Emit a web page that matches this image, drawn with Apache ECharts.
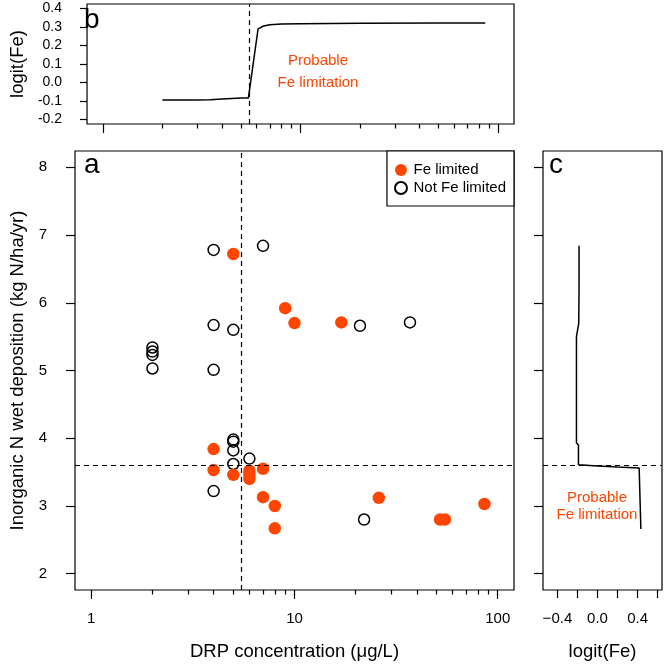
<!DOCTYPE html>
<html><head><meta charset="utf-8">
<script src="https://cdn.jsdelivr.net/npm/echarts@6/dist/echarts.min.js"></script>
<style>html,body{margin:0;padding:0;background:#fff}#c{width:664px;height:667px}</style>
</head><body><div id="c"></div>
<script>
// ---- data ----
const feLimitedDRP = [5, 9, 10, 17, 4, 4, 5, 6, 6, 6, 7, 7, 8, 8, 26, 52, 55, 86];
const feLimitedDep = [6.72, 5.92, 5.70, 5.71, 3.84, 3.53, 3.46, 3.52, 3.46, 3.40, 3.55, 3.13, 3.00, 2.67, 3.12, 2.80, 2.80, 3.03];
const notLimitedDRP = [4, 7, 4, 5, 2, 2, 2, 2, 4, 21, 37, 5, 5, 5, 5, 6, 4, 22];
const notLimitedDep = [6.78, 6.84, 5.67, 5.60, 5.34, 5.28, 5.23, 5.03, 5.01, 5.66, 5.71, 3.98, 3.95, 3.82, 3.62, 3.70, 3.22, 2.80];
const curveBDRP = [2, 3, 3.5, 4, 4.5, 5, 5.45, 6.1, 6.5, 7, 8, 10, 20, 50, 86];
const curveBLogit = [-0.095, -0.095, -0.093, -0.089, -0.086, -0.084, -0.083, 0.29, 0.305, 0.312, 0.316, 0.318, 0.320, 0.321, 0.322];
const curveCLogit = [-0.184, -0.184, -0.187, -0.21, -0.21, -0.19, -0.19, 0.0, 0.2, 0.416, 0.433, 0.433];
const curveCDep = [6.84, 6.24, 5.70, 5.50, 3.93, 3.90, 3.61, 3.59, 3.575, 3.56, 3.55, 2.66];
const drpThreshold = 5.5;
const depThreshold = 3.6;
const drpMajorTicks = [1, 10, 100];
const drpMinorTicks = [2, 3, 4, 5, 6, 7, 8, 9, 20, 30, 40, 50, 60, 70, 80, 90];
const depTicks = [2, 3, 4, 5, 6, 7, 8];
const logitBTicks = [-0.2, -0.1, 0, 0.1, 0.2, 0.3, 0.4];
const logitCTicks = [-0.4, -0.2, 0, 0.2, 0.4, 0.6];
const logitCLabels = [-0.4, 0, 0.4];
const seriesNames = ['Fe limited', 'Not Fe limited'];

// ---- style ----
const FONT = 'Liberation Sans, Arial, sans-serif';
const ORANGE = '#FF4500';
const zip = (a, b) => a.map((v, i) => [v, b[i]]);
const drpMin = Math.pow(10, -0.08), drpMax = Math.pow(10, 2.08);

function logX(grid, ticks, len, labels, name) {
  return {
    type: 'log', gridIndex: grid, position: 'bottom', min: drpMin, max: drpMax,
    axisLine: { show: false, onZero: false },
    splitLine: { show: false },
    axisTick: { show: true, customValues: ticks, length: len, lineStyle: { color: '#000', width: 1.2 } },
    axisLabel: labels ? { show: true, customValues: ticks, margin: 21, fontSize: 15, color: '#000', fontFamily: FONT,
      formatter: v => String(Math.round(v)) } : { show: false },
    name: name || '', nameLocation: 'middle', nameGap: 52,
    nameTextStyle: { fontSize: 18.5, color: '#000', fontFamily: FONT }
  };
}

const chart = echarts.init(document.getElementById('c'), null, { renderer: 'canvas' });
const option = {
  animation: false,
  backgroundColor: '#fff',
  grid: [
    { left: 75, top: 4, width: 439, height: 120, show: true, borderColor: '#000', borderWidth: 1.2, backgroundColor: 'transparent' },
    { left: 75, top: 151, width: 439, height: 439, show: true, borderColor: '#000', borderWidth: 1.2, backgroundColor: 'transparent' },
    { left: 543, top: 151, width: 119, height: 439, show: true, borderColor: '#000', borderWidth: 1.2, backgroundColor: 'transparent' }
  ],
  xAxis: [
    logX(0, drpMajorTicks, 9, false),
    logX(0, drpMinorTicks, 4.5, false),
    logX(1, drpMajorTicks, 9, true, 'DRP concentration (μg/L)'),
    logX(1, drpMinorTicks, 4.5, false),
    {
      type: 'value', gridIndex: 2, position: 'bottom', min: -0.544, max: 0.644,
      axisLine: { show: false, onZero: false }, splitLine: { show: false },
      axisTick: { customValues: logitCTicks, length: 8, lineStyle: { color: '#000', width: 1.2 } },
      axisLabel: { customValues: logitCLabels, margin: 21, fontSize: 15, color: '#000', fontFamily: FONT,
        formatter: v => v.toFixed(1).replace('-', '\u2212') },
      name: 'logit(Fe)', nameLocation: 'middle', nameGap: 52,
      nameTextStyle: { fontSize: 18.5, color: '#000', fontFamily: FONT }
    }
  ],
  yAxis: [
    {
      type: 'value', gridIndex: 0, position: 'left', min: -0.224, max: 0.424,
      axisLine: { show: false, onZero: false }, splitLine: { show: false },
      axisTick: { customValues: logitBTicks, length: 7, lineStyle: { color: '#000', width: 1.2 } },
      axisLabel: { customValues: logitBTicks, margin: 25, fontSize: 14, color: '#000', fontFamily: FONT,
        formatter: v => v.toFixed(1) },
      name: 'logit(Fe)', nameLocation: 'middle', nameGap: 52,
      nameTextStyle: { fontSize: 18.5, color: '#000', fontFamily: FONT }
    },
    {
      type: 'value', gridIndex: 1, position: 'left', min: 1.76, max: 8.24,
      axisLine: { show: false, onZero: false }, splitLine: { show: false },
      axisTick: { customValues: depTicks, length: 9, lineStyle: { color: '#000', width: 1.2 } },
      axisLabel: { customValues: depTicks, margin: 28, fontSize: 15, color: '#000', fontFamily: FONT },
      name: 'Inorganic N wet deposition (kg N/ha/yr)', nameLocation: 'middle', nameGap: 44,
      nameTextStyle: { fontSize: 18.5, color: '#000', fontFamily: FONT }
    },
    {
      type: 'value', gridIndex: 2, position: 'left', min: 1.76, max: 8.24,
      axisLine: { show: false, onZero: false }, splitLine: { show: false },
      axisTick: { customValues: depTicks, length: 9, lineStyle: { color: '#000', width: 1.2 } },
      axisLabel: { show: false }
    }
  ],
  legend: {
    data: seriesNames,
    orient: 'vertical', right: 150, top: 151,
    padding: [11.5, 8, 10.5, 7],
    itemWidth: 15, itemHeight: 12, itemGap: 3,
    borderColor: '#000', borderWidth: 1.2, backgroundColor: '#fff', borderRadius: 0,
    textStyle: { fontSize: 15, lineHeight: 15, color: '#000', fontFamily: FONT }
  },
  series: [
    {
      type: 'line', xAxisIndex: 0, yAxisIndex: 0,
      data: zip(curveBDRP, curveBLogit),
      showSymbol: false, symbol: 'none',
      lineStyle: { color: '#000', width: 1.5 },
      markLine: { silent: true, symbol: 'none', label: { show: false },
        lineStyle: { color: '#000', width: 1.2, type: [5, 4] },
        data: [{ xAxis: drpThreshold }] }
    },
    {
      name: seriesNames[1], type: 'scatter', xAxisIndex: 2, yAxisIndex: 1,
      data: zip(notLimitedDRP, notLimitedDep),
      symbol: 'circle', symbolSize: 11,
      itemStyle: { color: 'rgba(255,255,255,0)', borderColor: '#000', borderWidth: 1.5, opacity: 1 }
    },
    {
      name: seriesNames[0], type: 'scatter', xAxisIndex: 2, yAxisIndex: 1,
      data: zip(feLimitedDRP, feLimitedDep),
      symbol: 'circle', symbolSize: 12.5,
      itemStyle: { color: ORANGE, borderWidth: 0, opacity: 1 },
      markLine: { silent: true, symbol: 'none', label: { show: false },
        lineStyle: { color: '#000', width: 1.2, type: [5, 4] },
        data: [{ xAxis: drpThreshold }, { yAxis: depThreshold }] }
    },
    {
      type: 'line', xAxisIndex: 4, yAxisIndex: 2,
      data: zip(curveCLogit, curveCDep),
      showSymbol: false, symbol: 'none',
      lineStyle: { color: '#000', width: 1.5 },
      markLine: { silent: true, symbol: 'none', label: { show: false },
        lineStyle: { color: '#000', width: 1.2, type: [5, 4] },
        data: [{ yAxis: depThreshold }] }
    }
  ],
  graphic: [
    { type: 'text', left: 84, top: 6, style: { text: 'b', font: '28px ' + FONT, fill: '#000' } },
    { type: 'text', left: 84, top: 151, style: { text: 'a', font: '28px ' + FONT, fill: '#000' } },
    { type: 'text', left: 549, top: 151, style: { text: 'c', font: '28px ' + FONT, fill: '#000' } },
    { type: 'text', x: 318, y: 61, style: { text: 'Probable', font: '15px ' + FONT, fill: ORANGE, align: 'center', verticalAlign: 'middle' } },
    { type: 'text', x: 318, y: 82.5, style: { text: 'Fe limitation', font: '15px ' + FONT, fill: ORANGE, align: 'center', verticalAlign: 'middle' } },
    { type: 'text', x: 597, y: 498, style: { text: 'Probable', font: '15px ' + FONT, fill: ORANGE, align: 'center', verticalAlign: 'middle' } },
    { type: 'text', x: 597, y: 515, style: { text: 'Fe limitation', font: '15px ' + FONT, fill: ORANGE, align: 'center', verticalAlign: 'middle' } }
  ]
};
chart.setOption(option);
</script>
</body></html>
